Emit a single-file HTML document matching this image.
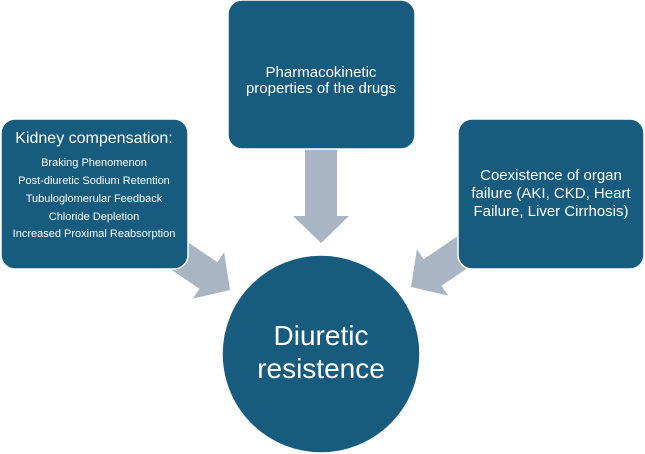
<!DOCTYPE html>
<html><head><meta charset="utf-8"><style>
html,body{margin:0;padding:0;background:#fff;width:645px;height:454px;overflow:hidden}
svg{display:block}
text{font-family:"Liberation Sans",sans-serif;fill:#fff}
</style></head><body>
<svg width="645" height="454" viewBox="0 0 645 454">
<g fill="#a9b5c3">
<rect x="305" y="146" width="32" height="72"/>
<polygon points="293,216 349,216 321,243"/>
<g transform="translate(230,290) rotate(34)">
<polygon points="-80,-16 -26,-16 -26,-28 0,0 -26,28 -26,16 -80,16"/>
</g>
<g transform="translate(411,287) rotate(146)">
<polygon points="-80,-16 -26,-16 -26,-28 0,0 -26,28 -26,16 -80,16"/>
</g>
</g>
<g fill="#175c7e" stroke="#fff" stroke-width="1.5">
<rect x="228" y="0" width="187" height="149" rx="14"/>
<rect x="1" y="119" width="187" height="150" rx="14"/>
<rect x="458" y="119" width="186" height="150" rx="14"/>
<circle cx="321" cy="354" r="99"/>
</g>
<g text-anchor="middle">
<text x="321" y="77" font-size="15">Pharmacokinetic</text>
<text x="321" y="93" font-size="15">properties of the drugs</text>
<text x="94" y="143" font-size="16">Kidney compensation:</text>
<text x="94" y="166" font-size="11">Braking Phenomenon</text>
<text x="94" y="184" font-size="11">Post-diuretic Sodium Retention</text>
<text x="94" y="202" font-size="11">Tubuloglomerular Feedback</text>
<text x="94" y="220" font-size="11">Chloride Depletion</text>
<text x="94" y="237" font-size="11">Increased Proximal Reabsorption</text>
<text x="551" y="180" font-size="15">Coexistence of organ</text>
<text x="551" y="198" font-size="15">failure (AKI, CKD, Heart</text>
<text x="551" y="216" font-size="15">Failure, Liver Cirrhosis)</text>
<text x="321" y="345" font-size="28">Diuretic</text>
<text x="321" y="378" font-size="28">resistence</text>
</g>
</svg>
</body></html>
